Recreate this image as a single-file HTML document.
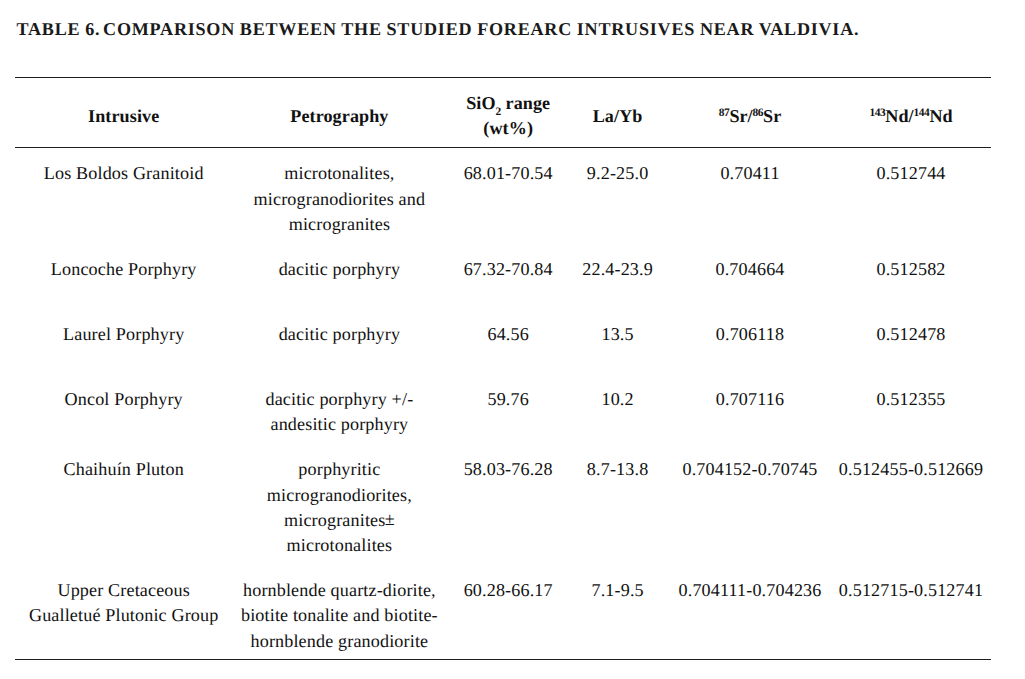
<!DOCTYPE html>
<html lang="en"><head><meta charset="utf-8"><title>Table 6</title>
<style>
html,body{margin:0;padding:0;background:#fff}
body{width:1025px;height:679px;overflow:hidden;position:relative;font-family:"Liberation Serif","Times New Roman",serif;color:#111;text-rendering:geometricPrecision}
h1 span{margin-left:-2px}
h1{position:absolute;left:16.5px;top:17.00px;margin:0;font-size:18.1px;line-height:25px;font-weight:bold;letter-spacing:.77px;word-spacing:-.5px;white-space:nowrap;color:#1a1a1a}
.r{position:absolute;left:15px;width:976px;height:1px;background:#1e1e1e}
.c,.h{position:absolute;width:230px;text-align:center;font-size:18.1px;line-height:25px;letter-spacing:0.15px;white-space:nowrap}
.h{font-weight:bold;letter-spacing:0.1px}
.n{letter-spacing:0}
p{margin:0;height:25px}
.pm{position:relative;top:-1.5px;margin-left:-.8px}
sub,sup{font-size:11.4px;line-height:0;letter-spacing:-.4px}
sub{vertical-align:-6px}
sup{vertical-align:6px}
</style></head>
<body>
<h1>TABLE 6. <span>COMPARISON BETWEEN THE STUDIED FOREARC INTRUSIVES NEAR VALDIVIA.</span></h1>
<div class="r" style="top:77px"></div>
<div class="r" style="top:147px"></div>
<div class="r" style="top:659px"></div>
<div class="h" style="left:8.7px;top:104.00px"><p>Intrusive</p></div>
<div class="h" style="left:224.4px;top:104.00px"><p>Petrography</p></div>
<div class="h" style="left:393.2px;top:91.00px"><p>SiO<sub>2</sub> range</p><p>(wt%)</p></div>
<div class="h" style="left:502.6px;top:104.00px"><p>La/Yb</p></div>
<div class="h n" style="left:635.0px;top:104.00px"><p><sup>87</sup>Sr/<sup>86</sup>Sr</p></div>
<div class="h n" style="left:796.0px;top:104.00px"><p><sup>143</sup>Nd/<sup>144</sup>Nd</p></div>
<div class="c" style="left:8.7px;top:161.00px"><p>Los Boldos Granitoid</p></div>
<div class="c" style="left:224.4px;top:161.00px"><p>microtonalites,</p><p style="margin-top:1px">microgranodiorites and</p><p>microgranites</p></div>
<div class="c" style="left:393.2px;top:161.00px"><p>68.01-70.54</p></div>
<div class="c" style="left:502.6px;top:161.00px"><p>9.2-25.0</p></div>
<div class="c" style="left:635.0px;top:161.00px"><p>0.70411</p></div>
<div class="c" style="left:796.0px;top:161.00px"><p>0.512744</p></div>
<div class="c" style="left:8.7px;top:257.00px"><p>Loncoche Porphyry</p></div>
<div class="c" style="left:224.4px;top:257.00px"><p>dacitic porphyry</p></div>
<div class="c" style="left:393.2px;top:257.00px"><p>67.32-70.84</p></div>
<div class="c" style="left:502.6px;top:257.00px"><p>22.4-23.9</p></div>
<div class="c" style="left:635.0px;top:257.00px"><p>0.704664</p></div>
<div class="c" style="left:796.0px;top:257.00px"><p>0.512582</p></div>
<div class="c" style="left:8.7px;top:322.00px"><p>Laurel Porphyry</p></div>
<div class="c" style="left:224.4px;top:322.00px"><p>dacitic porphyry</p></div>
<div class="c" style="left:393.2px;top:322.00px"><p>64.56</p></div>
<div class="c" style="left:502.6px;top:322.00px"><p>13.5</p></div>
<div class="c" style="left:635.0px;top:322.00px"><p>0.706118</p></div>
<div class="c" style="left:796.0px;top:322.00px"><p>0.512478</p></div>
<div class="c" style="left:8.7px;top:387.00px"><p>Oncol Porphyry</p></div>
<div class="c" style="left:224.4px;top:387.00px"><p>dacitic porphyry +/-</p><p>andesitic porphyry</p></div>
<div class="c" style="left:393.2px;top:387.00px"><p>59.76</p></div>
<div class="c" style="left:502.6px;top:387.00px"><p>10.2</p></div>
<div class="c" style="left:635.0px;top:387.00px"><p>0.707116</p></div>
<div class="c" style="left:796.0px;top:387.00px"><p>0.512355</p></div>
<div class="c" style="left:8.7px;top:457.00px"><p>Chaihu&iacute;n Pluton</p></div>
<div class="c" style="left:224.4px;top:457.00px"><p>porphyritic</p><p style="margin-top:1px">microgranodiorites,</p><p>microgranites<span class="pm">&plusmn;</span></p><p>microtonalites</p></div>
<div class="c" style="left:393.2px;top:457.00px"><p>58.03-76.28</p></div>
<div class="c" style="left:502.6px;top:457.00px"><p>8.7-13.8</p></div>
<div class="c" style="left:635.0px;top:457.00px"><p>0.704152-0.70745</p></div>
<div class="c" style="left:796.0px;top:457.00px"><p>0.512455-0.512669</p></div>
<div class="c" style="left:8.7px;top:578.00px"><p>Upper Cretaceous</p><p>Gualletu&eacute; Plutonic Group</p></div>
<div class="c" style="left:224.4px;top:578.00px"><p>hornblende quartz-diorite,</p><p>biotite tonalite and biotite-</p><p style="margin-top:1px">hornblende granodiorite</p></div>
<div class="c" style="left:393.2px;top:578.00px"><p>60.28-66.17</p></div>
<div class="c" style="left:502.6px;top:578.00px"><p>7.1-9.5</p></div>
<div class="c" style="left:635.0px;top:578.00px"><p>0.704111-0.704236</p></div>
<div class="c" style="left:796.0px;top:578.00px"><p>0.512715-0.512741</p></div>
</body></html>
